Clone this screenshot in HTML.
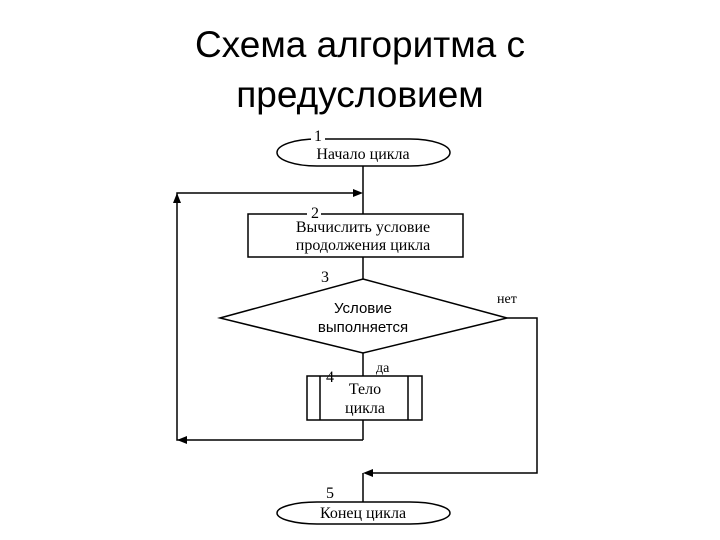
<!DOCTYPE html>
<html><head><meta charset="utf-8"><style>
body{margin:0;width:720px;height:540px;background:#fff;overflow:hidden}
.t{position:absolute;left:0;width:720px;text-align:center;font-family:"Liberation Sans",sans-serif;font-size:37px;color:#000;line-height:42px}
</style></head><body>
<div class="t" style="top:24px">Схема алгоритма с</div>
<div class="t" style="top:74px">предусловием</div>
<svg width="720" height="540" style="position:absolute;left:0;top:0" font-family="Liberation Serif,serif" font-size="16">
<g stroke="#000" stroke-width="1.5" fill="none">
<rect x="277" y="139" width="173" height="27" rx="40" ry="13.5"/>
<line x1="363" y1="166" x2="363" y2="214"/>
<polyline points="363,440 177,440 177,193 360,193"/>
<rect x="248" y="214" width="215" height="43"/>
<line x1="363" y1="257" x2="363" y2="279"/>
<polygon points="363,279 507,318 363,353 220,318"/>
<line x1="363" y1="353" x2="363" y2="376"/>
<rect x="307" y="376" width="115" height="44"/>
<line x1="320" y1="376" x2="320" y2="420"/>
<line x1="408" y1="376" x2="408" y2="420"/>
<line x1="363" y1="420" x2="363" y2="440"/>
<polyline points="507,318 537,318 537,473 366,473"/>
<line x1="363" y1="473" x2="363" y2="502"/>
<rect x="277" y="502" width="173" height="22" rx="40" ry="11"/>
</g>
<g fill="#000">
<polygon points="363,193 353,189 353,197"/>
<polygon points="177,193 173,203 181,203"/>
<polygon points="177,440 187,436 187,444"/>
<polygon points="363,473 373,469 373,477"/>
</g>
<g fill="#fff"><rect x="311" y="130" width="14" height="12"/><rect x="307" y="206" width="14" height="12"/><rect x="322" y="487" width="14" height="14"/></g>
<text x="318" y="141" text-anchor="middle">1</text>
<text x="363" y="159" text-anchor="middle">Начало цикла</text>
<text x="315" y="218" text-anchor="middle">2</text>
<text x="363" y="232" text-anchor="middle">Вычислить условие</text>
<text x="363" y="250" text-anchor="middle">продолжения цикла</text>
<text x="325" y="282" text-anchor="middle">3</text>
<text x="363" y="313" text-anchor="middle" font-family="Liberation Sans,sans-serif" font-size="15">Условие</text>
<text x="363" y="332" text-anchor="middle" font-family="Liberation Sans,sans-serif" font-size="15">выполняется</text>
<text x="497" y="303" font-size="14">нет</text>
<text x="376" y="372" font-size="14">да</text>
<text x="330" y="382" text-anchor="middle">4</text>
<text x="365" y="394" text-anchor="middle">Тело</text>
<text x="365" y="413" text-anchor="middle">цикла</text>
<text x="330" y="498" text-anchor="middle">5</text>
<text x="363" y="518" text-anchor="middle">Конец цикла</text>
</svg>
</body></html>
